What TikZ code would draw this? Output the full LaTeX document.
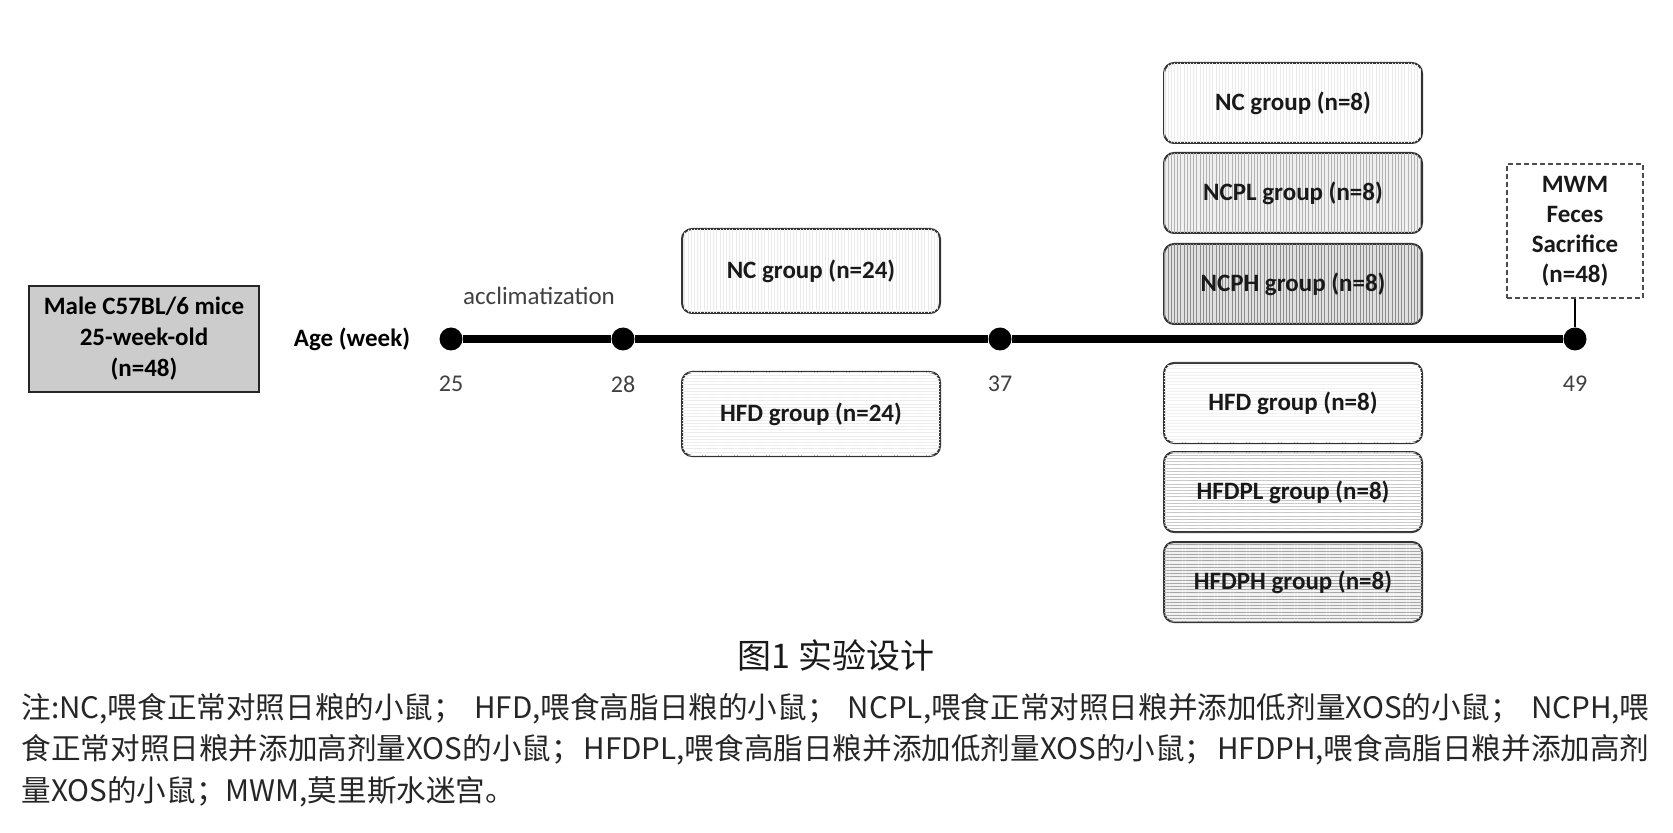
\documentclass[tikz,border=0pt]{standalone}
\usepackage{fontspec}
\setmainfont{Carlito}
\newfontfamily\cjk{Noto Sans CJK SC}
\usetikzlibrary{patterns.meta}

\begin{document}
\begin{tikzpicture}[x=0.5pt,y=-0.5pt,semithick,
    grp/.style={draw=black!80,line width=1pt,rounded corners=5pt,minimum width=129pt,
        minimum height=40pt,inner sep=0pt,font=\bfseries\fontsize{12.5}{15}\selectfont,text=black!90},
    vstripe/.style={postaction={pattern={Lines[angle=90,distance=1.6pt,line width=0.5pt]},pattern color=#1}},
    hstripe/.style={postaction={pattern={Lines[angle=0,distance=1.6pt,line width=0.5pt]},pattern color=#1}},
    dot/.style={circle,fill=black,minimum size=11.5pt,inner sep=0pt},
    wk/.style={font=\fontsize{12}{14}\selectfont,text=black!75},
    note/.style={anchor=west,inner sep=0pt,font=\cjk\fontsize{14.8}{17}\selectfont,text=black!85}]
    \useasboundingbox (0,0) rectangle (1673,833);
    % start
    \node[draw=black!85,line width=1.2pt,fill=black!20,minimum width=115pt,minimum height=53pt,align=center,
        font=\bfseries\fontsize{12.5}{15.5}\selectfont] (mice) at (144,339)
        {Male C57BL/6 mice\\25-week-old\\(n=48)};
    \node[font=\bfseries\fontsize{12.5}{15}\selectfont] (age) at (352,339) {Age (week)};
    % time points
    \node[dot] (t25) at (451,339) {};
    \node[dot] (t28) at (623,339) {};
    \node[dot] (t37) at (1000,339) {};
    \node[dot] (t49) at (1575,339) {};
    \draw[line width=3.6pt] (t25) -- (t28) -- (t37) -- (t49);
    \node[wk] at (451,384) {25};
    \node[wk] at (623,384) {28};
    \node[wk] at (1000,384) {37};
    \node[wk] at (1575,384) {49};
    \node[font=\fontsize{12.5}{15}\selectfont,text=black!75] (accl) at (539,296) {acclimatization};
    % two groups
    \node[grp,minimum height=42pt,vstripe=black!8] (nc) at (811,271) {NC group (n=24)};
    \node[grp,minimum height=42pt,hstripe=black!8] (hfd) at (811,414) {HFD group (n=24)};
    % six groups
    \node[grp,vstripe=black!8] (g1) at (1293,103) {NC group (n=8)};
    \node[grp,fill=black!6,vstripe=black!30] (g2) at (1293,193) {NCPL group (n=8)};
    \node[grp,fill=black!12,vstripe=black!45] (g3) at (1293,284) {NCPH group (n=8)};
    \node[grp,hstripe=black!6] (g4) at (1293,403) {HFD group (n=8)};
    \node[grp,hstripe=black!22] (g5) at (1293,492) {HFDPL group (n=8)};
    \node[grp,fill=black!5,hstripe=black!35] (g6) at (1293,582) {HFDPH group (n=8)};
    % end
    \node[draw=black!70,line width=1pt,dashed,dash pattern=on 2.5pt off 1.5pt,minimum width=68pt,minimum height=67pt,
        align=center,font=\bfseries\fontsize{12.5}{15}\selectfont,text=black!90] (mwm) at (1575,231)
        {MWM\\Feces\\Sacrifice\\(n=48)};
    \draw[line width=1pt] (mwm) -- (t49);
    % caption
    \node[font=\cjk\fontsize{17}{20}\selectfont,text=black!90] (title) at (836,656) {图1 实验设计};
    \node[note] (n1) at (21,709) {\makebox[814pt][s]{注:NC,喂食正常对照日粮的小鼠； HFD,喂食高脂日粮的小鼠； NCPL,喂食正常对照日粮并添加低剂量XOS的小鼠； NCPH,喂}};
    \node[note] (n2) at (21,750) {\makebox[814pt][s]{食正常对照日粮并添加高剂量XOS的小鼠；\hspace{0pt plus 1fil}HFDPL,喂食高脂日粮并添加低剂量XOS的小鼠；\hspace{0pt plus 1fil}HFDPH,喂食高脂日粮并添加高剂}};
    \node[note] (n3) at (21,792) {量XOS的小鼠；MWM,莫里斯水迷宫。};
\end{tikzpicture}
\end{document}
